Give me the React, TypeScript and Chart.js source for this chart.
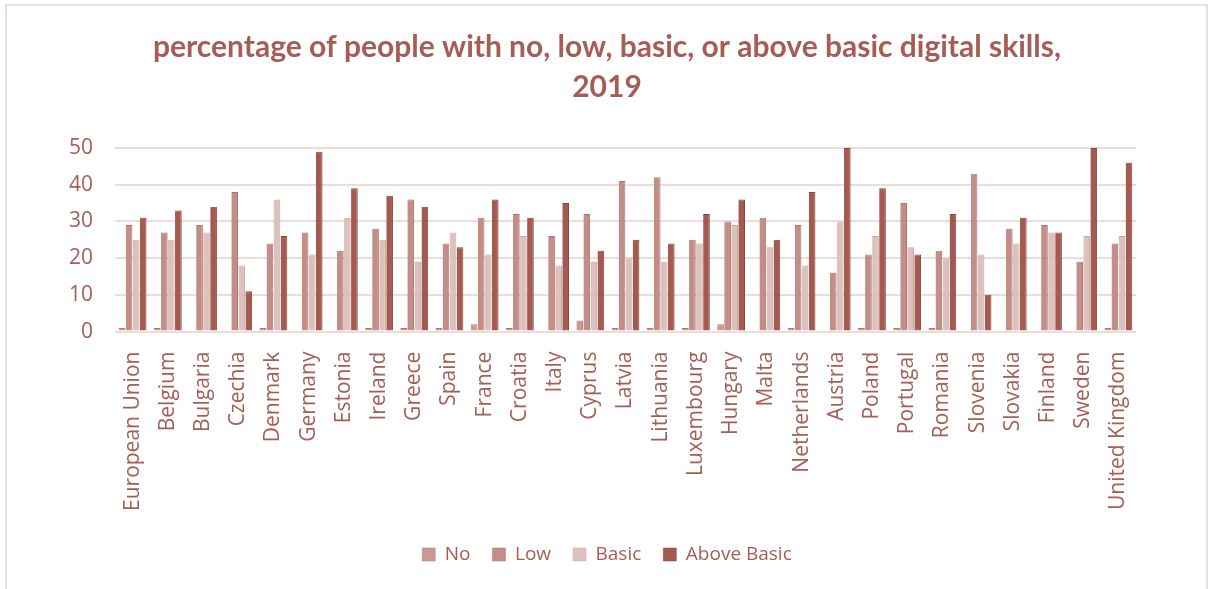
import React, { useEffect, useRef } from "react";
import { Chart, registerables } from "chart.js";

Chart.register(...registerables);

const countries = [
  "European Union", "Belgium", "Bulgaria", "Czechia", "Denmark", "Germany", "Estonia",
  "Ireland", "Greece", "Spain", "France", "Croatia", "Italy", "Cyprus", "Latvia",
  "Lithuania", "Luxembourg", "Hungary", "Malta", "Netherlands", "Austria", "Poland",
  "Portugal", "Romania", "Slovenia", "Slovakia", "Finland", "Sweden", "United Kingdom",
];

const noSkills = [1, 1, 0, 0, 1, 0, 0, 1, 1, 1, 2, 1, 0, 3, 1, 1, 1, 2, 0, 1, 0, 1, 1, 1, 0, 0, 0, 0, 1];
const lowSkills = [29, 27, 29, 38, 24, 27, 22, 28, 36, 24, 31, 32, 26, 32, 41, 42, 25, 30, 31, 29, 16, 21, 35, 22, 43, 28, 29, 19, 24];
const basicSkills = [25, 25, 27, 18, 36, 21, 31, 25, 19, 27, 21, 26, 18, 19, 20, 19, 24, 29, 23, 18, 30, 26, 23, 20, 21, 24, 27, 26, 26];
const aboveBasicSkills = [31, 33, 34, 11, 26, 49, 39, 37, 34, 23, 36, 31, 35, 22, 25, 24, 32, 36, 25, 38, 50, 39, 21, 32, 10, 31, 27, 50, 46];

const yTicks = [0, 10, 20, 30, 40, 50];

const TEXT = "#a55e56";
const FONT = "'Open Sans', 'Noto Sans', sans-serif";

export default function App() {
  const ref = useRef<HTMLCanvasElement | null>(null);

  useEffect(() => {
    if (!ref.current) return;
    const mk = (label: string, data: number[], bg: string, border: string) => ({
      label,
      data,
      backgroundColor: bg,
      borderColor: border,
      borderWidth: { top: 1, right: 1, left: 0, bottom: 0 },
      categoryPercentage: 0.8,
      barPercentage: 0.95,
    });
    const chart = new Chart(ref.current, {
      type: "bar",
      data: {
        labels: countries,
        datasets: [
          mk("No", noSkills, "#c99a94", "#b07a73"),
          mk("Low", lowSkills, "#c28e87", "#a8746d"),
          mk("Basic", basicSkills, "#dcc1bc", "#c8a8a2"),
          mk("Above Basic", aboveBasicSkills, "#a35a51", "#8a463e"),
        ],
      },
      options: {
        animation: false,
        responsive: false,
        maintainAspectRatio: false,
        layout: { padding: { top: 21, left: 4, right: 4, bottom: 17 } },
        plugins: {
          title: {
            display: true,
            text: ["percentage of people with no, low, basic, or above basic digital skills,", "2019"],
            color: TEXT,
            font: { family: "Lato, 'Open Sans', sans-serif", size: 30, weight: "bold", lineHeight: 1.333 },
            padding: { top: 0, bottom: 41 },
          },
          legend: {
            position: "bottom",
            labels: {
              color: TEXT,
              font: { family: FONT, size: 19 },
              boxWidth: 13,
              boxHeight: 13,
              padding: 22,
            },
          },
          tooltip: { enabled: false },
        },
        scales: {
          x: {
            grid: { display: false },
            border: { display: false },
            ticks: {
              color: TEXT,
              font: { family: FONT, size: 21 },
              minRotation: 90,
              maxRotation: 90,
              autoSkip: false,
              padding: 12,
            },
          },
          y: {
            min: 0,
            max: 50,
            afterBuildTicks: (axis: any) => {
              axis.ticks = yTicks.map((v) => ({ value: v }));
            },
            afterFit: (axis: any) => {
              axis.width = 105;
            },
            grid: { color: "#eddcda", lineWidth: 2, drawTicks: false },
            border: { display: false },
            ticks: {
              color: TEXT,
              font: { family: FONT, size: 21 },
              padding: 22,
            },
          },
          yRight: {
            position: "right",
            min: 0,
            max: 50,
            afterFit: (axis: any) => {
              axis.width = 68;
            },
            grid: { display: false, drawTicks: false },
            border: { display: false },
            ticks: { display: false },
          },
        },
      },
    } as any);
    return () => chart.destroy();
  }, []);

  return (
    <div style={{ position: "fixed", left: 0, top: 0, width: 1216, height: 589, background: "#fff" }}>
      <div
        style={{
          position: "absolute",
          left: 5,
          top: 4,
          width: 1203,
          height: 600,
          border: "2px solid #eddcda",
          boxSizing: "border-box",
        }}
      />
      <canvas ref={ref} width={1202} height={585} style={{ position: "absolute", left: 6, top: 6 }} />
    </div>
  );
}
